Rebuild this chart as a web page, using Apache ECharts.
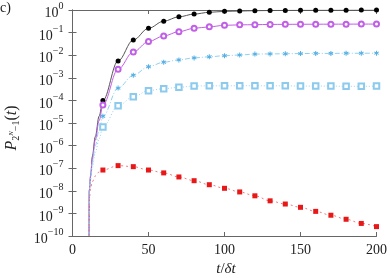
<!DOCTYPE html>
<html><head><meta charset="utf-8">
<script src="https://cdn.jsdelivr.net/npm/echarts@6/dist/echarts.min.js"></script>
<style>html,body{margin:0;padding:0;background:#fff}#c{width:390px;height:278px}</style>
</head><body><div id="c"></div>
<script>
// time values (t / δt)
const tLead = [10.9, 11, 12, 13, 15, 17.5];
const tMarks = [20, 30, 40, 50, 60, 70, 80, 90, 100, 110, 120, 130, 140, 150, 160, 170, 180, 190, 200];
const xTicks = [0, 50, 100, 150, 200];

// curve lead-in (between onset and first marker)
const blackLead  = [1e-10, 1e-8, 5e-8, 3.2e-7, 2.5e-6, 2e-5];
const purpleLead = [1e-10, 1e-8, 5e-8, 2.5e-7, 1.8e-6, 1.26e-5];
const starLead   = [1e-10, 1e-8, 4e-8, 1.6e-7, 1e-6, 5e-6];
const squareLead = [1e-10, 1e-8, 3.2e-8, 1e-7, 5e-7, 2e-6];
const redLead    = [1e-10, 4e-9, 1.4e-8, 2.5e-8, 4.5e-8, 6.8e-8];

// marker values
const blackVals  = [1.0e-4, 5.6e-3, 0.047, 0.155, 0.32, 0.50, 0.66, 0.79, 0.87, 0.90, 0.93, 0.95, 0.96, 0.97, 0.975, 0.98, 0.985, 0.99, 0.99];
const purpleVals = [6.3e-5, 2.4e-3, 0.014, 0.040, 0.071, 0.11, 0.155, 0.18, 0.21, 0.22, 0.224, 0.23, 0.232, 0.234, 0.235, 0.236, 0.237, 0.238, 0.238];
const starVals   = [2.0e-5, 3.5e-4, 1.3e-3, 3.1e-3, 4.9e-3, 6.2e-3, 7.6e-3, 8.5e-3, 9.5e-3, 0.0102, 0.0112, 0.0114, 0.0116, 0.0118, 0.012, 0.012, 0.0122, 0.0122, 0.0123];
const squareVals = [6.6e-6, 5.8e-5, 1.45e-4, 2.7e-4, 3.3e-4, 3.8e-4, 4.35e-4, 4.4e-4, 4.4e-4, 4.45e-4, 4.45e-4, 4.4e-4, 4.4e-4, 4.3e-4, 4.3e-4, 4.3e-4, 4.2e-4, 4.2e-4, 4.3e-4];
const redVals    = [8.3e-8, 1.3e-7, 1.17e-7, 8.3e-8, 6.2e-8, 4.1e-8, 2.8e-8, 1.86e-8, 1.29e-8, 8.9e-9, 6.0e-9, 3.6e-9, 2.6e-9, 1.86e-9, 1.23e-9, 8.3e-10, 5.5e-10, 3.6e-10, 2.6e-10];

const SERIF = 'Liberation Serif';
const AX = '#666';

function build(lead, vals) {
  return tLead.map((t, i) => ({ value: [t, lead[i]], symbol: 'none' }))
    .concat(tMarks.map((t, i) => [t, vals[i]]));
}

const starPath = 'path://M4,0 L6,0 L6,3.3 L8.9,1.6 L9.9,3.3 L7,5 L9.9,6.7 L8.9,8.4 L6,6.7 L6,10 L4,10 L4,6.7 L1.1,8.4 L0.1,6.7 L3,5 L0.1,3.3 L1.1,1.6 L4,3.3 Z';

function mkSeries(name, lead, vals, lineColor, lineType, symbol, symSize, symColor, filled) {
  return {
    name, type: 'line', data: build(lead, vals), smooth: 0.35, smoothMonotone: 'x',
    symbol, symbolSize: symSize, showAllSymbol: true, clip: true,
    lineStyle: { color: lineColor, width: 1, type: lineType },
    itemStyle: filled ? { color: symColor, borderWidth: 0 } : { color: symColor, borderColor: symColor, borderWidth: 0.8 },
    emphasis: { disabled: true }, z: 3
  };
}

const chart = echarts.init(document.getElementById('c'), null, { renderer: 'canvas' });
chart.setOption({
  animation: false,
  grid: { left: 72.5, right: 10, top: 10, bottom: 42, containLabel: false },
  xAxis: [
    { type: 'value', min: 0, max: 200, interval: 50, position: 'bottom',
      axisLine: { lineStyle: { color: AX, width: 1 } },
      axisTick: { inside: true, length: 4, lineStyle: { color: AX } },
      axisLabel: { fontFamily: SERIF, fontSize: 14, color: '#222', margin: 7,
        formatter: v => xTicks.includes(v) ? String(v) : '' },
      splitLine: { show: false } },
    { type: 'value', min: 0, max: 200, interval: 50, position: 'top',
      axisLine: { lineStyle: { color: AX, width: 1 } },
      axisTick: { inside: true, length: 4, lineStyle: { color: AX } },
      axisLabel: { show: false }, splitLine: { show: false } }
  ],
  yAxis: [
    { type: 'log', logBase: 10, min: 1e-10, max: 1, interval: 1, splitNumber: 10, position: 'left',
      axisLine: { show: true, lineStyle: { color: AX, width: 1 } },
      axisTick: { show: true, inside: true, length: 4, lineStyle: { color: AX } },
      axisLabel: { margin: 9, color: '#222', fontFamily: SERIF,
        formatter: v => { const e = Math.round(Math.log10(v)); return '{b|10}{s|' + (e < 0 ? '\u2212' + (-e) : e) + '}'; },
        rich: { b: { fontFamily: SERIF, fontSize: 14, color: '#222', padding: [7, 0, 0, 0] },
                s: { fontFamily: SERIF, fontSize: 10, color: '#222', padding: [0, 0, 7, 0] } } },
      splitLine: { show: false } },
    { type: 'log', logBase: 10, min: 1e-10, max: 1, interval: 1, splitNumber: 10, position: 'right',
      axisLine: { show: true, lineStyle: { color: AX, width: 1 } },
      axisTick: { show: true, inside: true, length: 4, lineStyle: { color: AX } },
      axisLabel: { show: false }, splitLine: { show: false } }
  ],
  series: [
    mkSeries('s1', blackLead, blackVals, '#555', 'solid', 'circle', 5, '#000', true),
    mkSeries('s2', purpleLead, purpleVals, '#c35ce6', 'solid', 'emptyCircle', 5, '#c060e6', false),
    mkSeries('s3', starLead, starVals, '#8fd0f0', [5, 2, 1, 2], starPath, 5, '#55b0e4', true),
    mkSeries('s4', squareLead, squareVals, '#9ad2f2', [1, 2], 'emptyRect', 5.5, '#8ccaee', false),
    mkSeries('s5', redLead, redVals, '#f07a7a', [2, 3], 'rect', 5, '#e81818', true)
  ],
  graphic: [
    { type: 'text', left: 0, top: 1, style: { text: 'c)', fontFamily: SERIF, fontSize: 14, fill: '#222' } },
    { type: 'text', x: 226, y: 269,
      style: { text: '{i|t}{n|/}{i|\u03B4t}', align: 'center', verticalAlign: 'middle',
        rich: { i: { fontFamily: SERIF, fontSize: 15, fontStyle: 'italic', fill: '#222' },
                n: { fontFamily: SERIF, fontSize: 15, fill: '#222' } } } },
    { type: 'text', x: 12, y: 128, rotation: Math.PI / 2,
      style: { text: '{i|P}{sub|2}{sup|N}{sub|\u22121}{n|(}{i|t}{n|)}', align: 'center', verticalAlign: 'middle',
        rich: { i: { fontFamily: SERIF, fontSize: 16, fontStyle: 'italic', fill: '#222' },
                n: { fontFamily: SERIF, fontSize: 16, fill: '#222' },
                sub: { fontFamily: SERIF, fontSize: 10, fill: '#222', padding: [8, 0, 0, 0] },
                sup: { fontFamily: SERIF, fontSize: 7, fontStyle: 'italic', fill: '#222', padding: [0, 0, 1, 0] } } } }
  ]
});
</script></body></html>
